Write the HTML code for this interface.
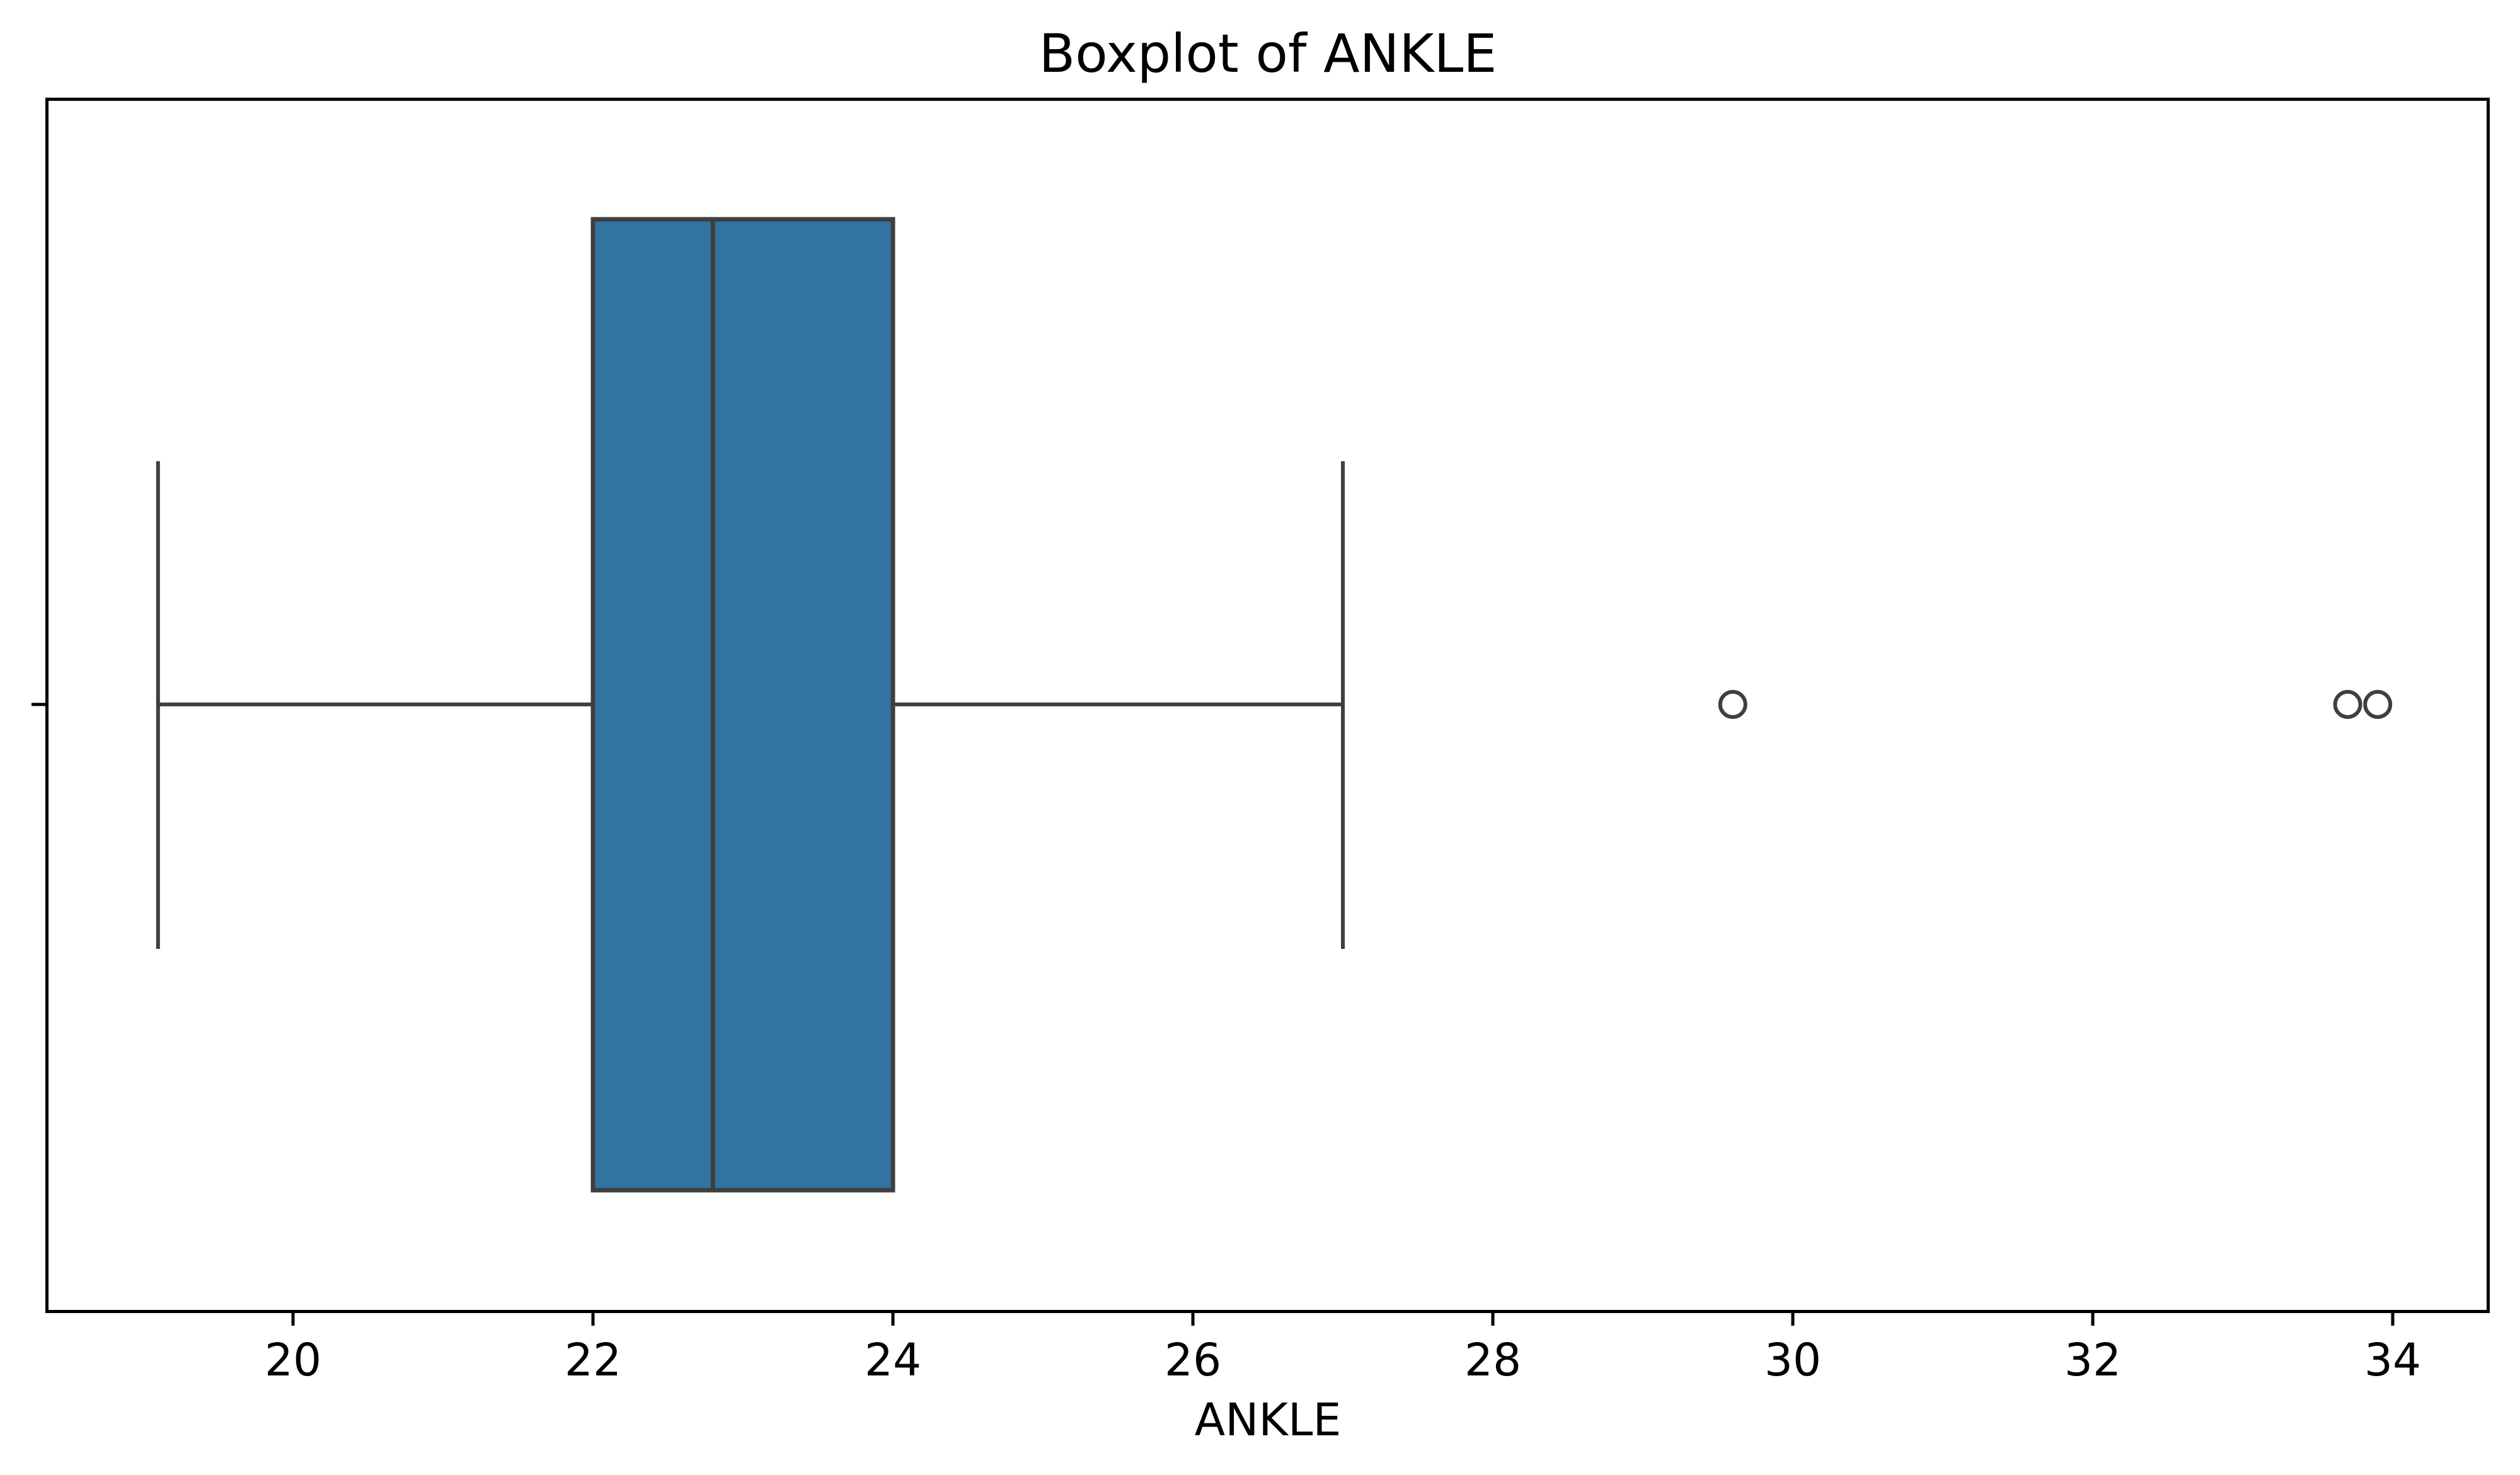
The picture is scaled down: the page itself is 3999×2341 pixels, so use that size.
<!DOCTYPE html>
<html><head><meta charset="utf-8"><style>html,body{margin:0;padding:0;background:#fff}svg{display:block}</style></head>
<body>
<svg id="chart" width="3999" height="2341" viewBox="0 0 3999 2341" xmlns="http://www.w3.org/2000/svg" font-family="DejaVu Sans, Liberation Sans, sans-serif">
<rect x="0" y="0" width="3999" height="2341" fill="#fff"/>
<text x="2012" y="114" font-size="84" text-anchor="middle" fill="#000">Boxplot of ANKLE</text>
<g id="plot"></g>
<rect x="74.5" y="157.5" width="3874" height="1924" fill="none" stroke="#000" stroke-width="5"/>
<line x1="50" y1="1118" x2="74" y2="1118" stroke="#000" stroke-width="5"/>
<text x="2012" y="2278" font-size="71" text-anchor="middle" fill="#000">ANKLE</text>
<g id="xticks"></g>
</svg>
<script>
const stats = [19.1, 22.0, 22.8, 24.0, 27.0]; // whisker low, q1, median, q3, whisker high
const outliers = [29.6, 33.7, 33.9];
const tickValues = [20, 22, 24, 26, 28, 30, 32, 34];
const tickLabels = ["20", "22", "24", "26", "28", "30", "32", "34"];

const NS = "http://www.w3.org/2000/svg";
function x(v){ return 465 + (v - 20) * 238; }
const cy = 1118, boxTop = 348, boxBot = 1889, capTop = 732, capBot = 1506;
const plot = document.getElementById('plot');
function mk(tag, attrs){ const e = document.createElementNS(NS, tag); for (const k in attrs) e.setAttribute(k, attrs[k]); return e; }

let e;
e = mk('line', {x1:x(stats[0]), y1:cy, x2:x(stats[1]), y2:cy, stroke:'#3f3f3f', 'stroke-width':6});


plot.appendChild(e);
e = mk('line', {x1:x(stats[3]), y1:cy, x2:x(stats[4]), y2:cy, stroke:'#3f3f3f', 'stroke-width':6});


plot.appendChild(e);
e = mk('line', {x1:x(stats[0]), y1:capTop, x2:x(stats[0]), y2:capBot, stroke:'#3f3f3f', 'stroke-width':6});


plot.appendChild(e);
e = mk('line', {x1:x(stats[4]), y1:capTop, x2:x(stats[4]), y2:capBot, stroke:'#3f3f3f', 'stroke-width':6});


plot.appendChild(e);
e = mk('rect', {x:x(stats[1]), y:boxTop, width:x(stats[3]) - x(stats[1]), height:boxBot - boxTop, fill:'#3274a1', stroke:'#3f3f3f', 'stroke-width':7});


plot.appendChild(e);
e = mk('line', {x1:x(stats[2]), y1:boxTop, x2:x(stats[2]), y2:boxBot, stroke:'#3f3f3f', 'stroke-width':7});


plot.appendChild(e);
outliers.forEach(v => {
  const c = mk('circle', {cx:x(v), cy:cy, r:20, fill:'none', stroke:'#3f3f3f', 'stroke-width':6});
  
  
  plot.appendChild(c);
});
const xt = document.getElementById('xticks');
tickValues.forEach((v, i) => {
  const l = mk('line', {x1:x(v), y1:2081, x2:x(v), y2:2104, stroke:'#000', 'stroke-width':5});
  
  
  xt.appendChild(l);
  const t = mk('text', {x:x(v), y:2183, 'font-size':71, 'text-anchor':'middle', fill:'#000'});
  t.textContent = tickLabels[i];
  
  
  xt.appendChild(t);
});
</script>
</body></html>
